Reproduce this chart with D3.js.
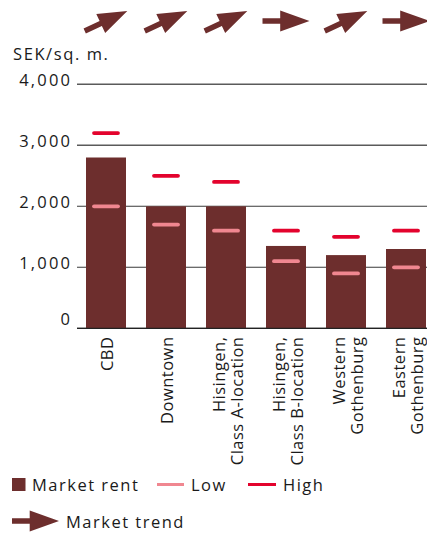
<!DOCTYPE html>
<html>
<head>
<meta charset="utf-8">
<script src="https://cdn.jsdelivr.net/npm/d3@7"></script>
<style>
  html, body { margin: 0; padding: 0; background: #fff; }
  svg { display: block; }
  text { font-family: "Open Sans", sans-serif; fill: #1a1a1a; }
</style>
</head>
<body>
<svg id="chart" width="427" height="534"></svg>
<script>
// Office rents by submarket, SEK per square metre
const categories = ["CBD", "Downtown", "Hisingen,\nClass A-location", "Hisingen,\nClass B-location", "Western\nGothenburg", "Eastern\nGothenburg"];
const marketRent = [2800, 2000, 2000, 1350, 1200, 1300];
const lowRent    = [2000, 1700, 1600, 1100,  900, 1000];
const highRent   = [3200, 2500, 2400, 1600, 1500, 1600];
const trend      = ["up", "up", "up", "flat", "up", "flat"];
const yTicks     = [0, 1000, 2000, 3000, 4000];
const unitLabel  = "SEK/sq. m.";
const legendItems = ["Market rent", "Low", "High"];
const trendLabel = "Market trend";

const colors = { bar: "#6d2e2d", low: "#f08790", high: "#e3032d", grid: "#3a3a3a" };

const svg = d3.select("#chart");
const W = 427;

const x = d3.scaleBand()
  .domain(categories)
  .range([76, 436])
  .paddingInner(1 / 3)
  .paddingOuter(1 / 6);

const y = d3.scaleLinear()
  .domain([0, 4000])
  .range([328.3, 84.3]);

const trendAngle = d3.scaleOrdinal().domain(["up", "flat", "down"]).range([-25, 0, 25]);

// Gridlines
svg.append("g").selectAll("line")
  .data(yTicks)
  .join("line")
  .attr("x1", 77).attr("x2", W)
  .attr("y1", d => y(d)).attr("y2", d => y(d))
  .attr("stroke", d => d > 2000 ? "#5a5a5a" : colors.grid)
  .attr("stroke-width", d => d > 2000 ? 1.4 : 1.1);

// Tick labels (trailing letter-spacing compensated on the anchor)
const tickSpacing = 2.2;
svg.append("g").selectAll("text")
  .data(yTicks)
  .join("text")
  .attr("x", 70 + tickSpacing)
  .attr("y", d => Math.min(y(d) + 2, y(0) - 3.5))
  .attr("text-anchor", "end")
  .attr("font-size", 16.5)
  .attr("letter-spacing", tickSpacing)
  .text(d => d3.format(",")(d));

svg.append("text")
  .attr("x", 13).attr("y", 60)
  .attr("font-size", 16.5)
  .attr("letter-spacing", 1.6)
  .text(unitLabel);

// Bars
const rows = categories.map((c, i) => ({ c, rent: marketRent[i], low: lowRent[i], high: highRent[i], trend: trend[i] }));

svg.append("g").selectAll("rect")
  .data(rows)
  .join("rect")
  .attr("x", d => x(d.c))
  .attr("y", d => y(d.rent))
  .attr("width", x.bandwidth())
  .attr("height", d => y(0) - y(d.rent))
  .attr("fill", colors.bar);

// Baseline
svg.append("line")
  .attr("x1", 77).attr("x2", W)
  .attr("y1", y(0)).attr("y2", y(0))
  .attr("stroke", "#222").attr("stroke-width", 1.2);

// Low / high markers
const half = 12;
for (const [key, col] of [["low", colors.low], ["high", colors.high]]) {
  svg.append("g").selectAll("line")
    .data(rows)
    .join("line")
    .attr("x1", d => x(d.c) + x.bandwidth() / 2 - half)
    .attr("x2", d => x(d.c) + x.bandwidth() / 2 + half)
    .attr("y1", d => y(d[key])).attr("y2", d => y(d[key]))
    .attr("stroke", col)
    .attr("stroke-width", 3.8)
    .attr("stroke-linecap", "round");
}

// Trend arrow shape, centred on the origin, pointing right
const arrowPath = "M-23.5,-2.7 L-5.8,-2.7 L-5.8,-10.5 L23.5,0 L-5.8,10.5 L-5.8,2.7 L-23.5,2.7 Z";

svg.append("g").selectAll("path")
  .data(rows)
  .join("path")
  .attr("d", arrowPath)
  .attr("fill", colors.bar)
  .attr("transform", d => `translate(${x(d.c) + x.bandwidth() / 2},21) rotate(${trendAngle(d.trend)})`);

// Category labels, rotated
const lineH = 18.3;
const labels = svg.append("g").selectAll("g")
  .data(categories)
  .join("g")
  .attr("transform", d => `translate(${x(d) + x.bandwidth() / 2},337) rotate(-90)`);

labels.each(function (d) {
  const lines = d.split("\n");
  const n = lines.length;
  d3.select(this).selectAll("text")
    .data(lines)
    .join("text")
    .attr("x", 0.5)
    .attr("y", (l, i) => 6.5 + (i - (n - 1) / 2) * lineH + (n > 1 ? 1.5 : 0))
    .attr("text-anchor", "end")
    .attr("font-size", 16.5)
    .attr("letter-spacing", 0.5)
    .text(l => l);
});

// Legend
const legSpacing = 1.5;
const leg = svg.append("g");
leg.append("rect").attr("x", 12).attr("y", 478).attr("width", 13.5).attr("height", 13).attr("fill", colors.bar);
leg.append("text").attr("x", 32).attr("y", 491).attr("font-size", 16.5).attr("letter-spacing", legSpacing).text(legendItems[0]);
leg.append("line").attr("x1", 157).attr("x2", 184).attr("y1", 484.5).attr("y2", 484.5)
  .attr("stroke", colors.low).attr("stroke-width", 3);
leg.append("text").attr("x", 191).attr("y", 491).attr("font-size", 16.5).attr("letter-spacing", legSpacing).text(legendItems[1]);
leg.append("line").attr("x1", 248).attr("x2", 276).attr("y1", 484.5).attr("y2", 484.5)
  .attr("stroke", colors.high).attr("stroke-width", 3);
leg.append("text").attr("x", 283).attr("y", 491).attr("font-size", 16.5).attr("letter-spacing", legSpacing).text(legendItems[2]);

leg.append("path").attr("d", arrowPath).attr("fill", colors.bar)
  .attr("transform", "translate(35.5,521)");
leg.append("text").attr("x", 66).attr("y", 528).attr("font-size", 16.5).attr("letter-spacing", legSpacing).text(trendLabel);
</script>
</body>
</html>
